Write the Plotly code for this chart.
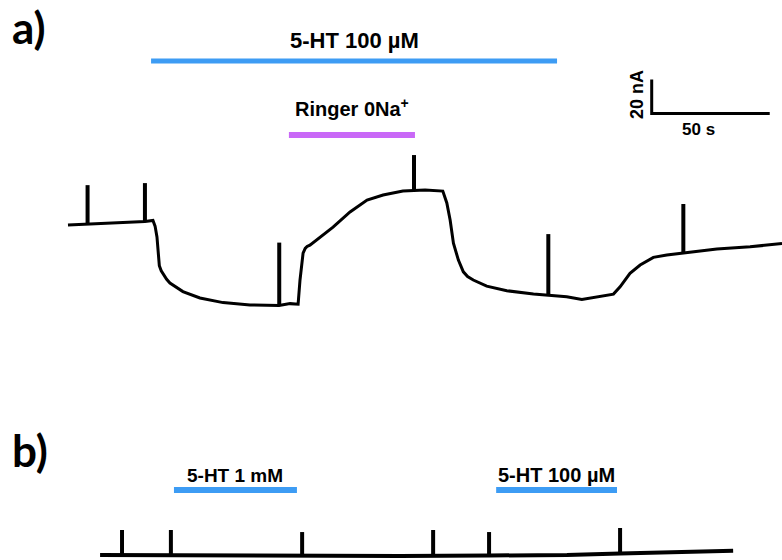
import numpy as np
import plotly.graph_objects as go

# ---------------- data (time in s, current in nA) ----------------
# Panel a trace
time_a = [0, 13.6, 26.3, 32.6, 36.0, 36.9, 37.7, 38.2, 38.7, 39.5,
          40.3, 41.8, 43.2, 48.7, 55.9, 65.7, 77.1, 89.4, 94.1, 97.5,
          98.3, 99.6, 100.5, 101.3, 102.5, 106.8, 112.3, 119.5, 126.7, 133.5,
          141.9, 146.6, 151.3, 158.8, 160.5, 161.9, 163.3, 165.4, 167.5, 169.3,
          171.7, 177.4, 185.9, 197.2, 203.5, 211.3, 217.7, 225.4, 231.1, 233.9,
          238.1, 242.4, 248.0, 253.7, 260.7, 274.9, 289.0, 302.5]
current_a = [-0.6, 0.3, 0.9, 1.5, 2.1, -1.2, -7.6, -19.0, -24.5, -27.5,
             -29.5, -32.5, -34.7, -39.7, -43.5, -46.2, -47.6, -47.9, -46.8, -47.1,
             -32.9, -17.1, -14.3, -13.2, -12.4, -7.6, -1.8, 7.1, 14.1, 17.1,
             19.4, 19.7, 20.0, 19.4, 12.4, 2.4, -11.2, -21.2, -28.1, -30.9,
             -32.9, -36.5, -39.2, -41.2, -41.8, -42.8, -44.3, -42.4, -41.2, -36.9,
             -29.0, -24.1, -19.6, -18.2, -16.9, -14.7, -13.4, -11.4]
spike_t_a = [8.3, 32.6, 89.5, 146.6, 203.5, 260.7]
spike_top_a = [22.9, 24.1, -10.9, 40.6, -5.9, 11.8]

# Panel b trace
time_b = [13.6, 55.9, 99.2, 140.7, 178.4, 211.4, 233.9, 259.3, 281.8]
current_b = [0, -0.3, -0.6, -0.6, -0.3, 0, 0.9, 1.5, 2.5]
spike_t_b = [22.9, 43.6, 99.2, 154.7, 178.4, 233.9]
spike_top_b = [14.7, 14.7, 13.5, 14.7, 13.5, 15.9]

# Application periods (s)
ht100_a = (35.2, 207.2)
ringer0na = (93.6, 147.0)
ht1mm_b = (44.9, 97.0)
ht100_b = (181.4, 232.6)

# Scale bar
scale_t = 50   # s
scale_i = 20   # nA

# ---------------- layout constants ----------------
W, H = 782, 560
X_RANGE = [-28.8, 302.5]
Y_RANGE_A = [-197.6, 131.8]
Y_RANGE_B = [-2.94, 326.5]
BLUE = "#3d9cf4"
PURPLE = "#c968f7"
FONT = "Liberation Sans, Arial, sans-serif"


def spikes(ts, tops, tt, cc):
    xs, ys = [], []
    for t, top in zip(ts, tops):
        base = float(np.interp(t, tt, cc))
        xs += [t, t, None]
        ys += [base, top, None]
    return xs, ys


fig = go.Figure()

fig.add_trace(go.Scatter(x=time_a, y=current_a, mode="lines",
                         line=dict(color="black", width=3), yaxis="y"))
sx, sy = spikes(spike_t_a, spike_top_a, time_a, current_a)
fig.add_trace(go.Scatter(x=sx, y=sy, mode="lines",
                         line=dict(color="black", width=4), yaxis="y"))

fig.add_trace(go.Scatter(x=time_b, y=current_b, mode="lines",
                         line=dict(color="black", width=4), yaxis="y2"))
sx, sy = spikes(spike_t_b, spike_top_b, time_b, current_b)
fig.add_trace(go.Scatter(x=sx, y=sy, mode="lines",
                         line=dict(color="black", width=4), yaxis="y2"))

# scale bar
sb_t0, sb_i0 = 247.3, 65.1
fig.add_trace(go.Scatter(x=[sb_t0, sb_t0, sb_t0 + scale_t],
                         y=[sb_i0 + scale_i, sb_i0, sb_i0],
                         mode="lines", line=dict(color="black", width=3),
                         yaxis="y"))

shapes = []
for (t0, t1), yp, col, w in [(ht100_a, 1 - 61 / H, BLUE, 5),
                             (ringer0na, 1 - 135 / H, PURPLE, 6),
                             (ht1mm_b, 1 - 490 / H, BLUE, 6),
                             (ht100_b, 1 - 490 / H, BLUE, 6)]:
    shapes.append(dict(type="line", xref="x", yref="paper", x0=t0, x1=t1,
                       y0=yp, y1=yp, line=dict(color=col, width=w)))

annotations = [
    dict(text="<b>a)</b>", xref="paper", yref="paper", x=10 / W, y=1 - 27 / H,
         xanchor="left", yanchor="middle", showarrow=False,
         font=dict(family="Lato, sans-serif", size=44, color="black")),
    dict(text="<b>b)</b>", xref="paper", yref="paper", x=10 / W, y=1 - 450 / H,
         xanchor="left", yanchor="middle", showarrow=False,
         font=dict(family="Lato, sans-serif", size=44, color="black")),
    dict(text="<b>5-HT 100 µM</b>", xref="x", yref="paper",
         x=sum(ht100_a) / 2, y=1 - 41 / H, xanchor="center", yanchor="middle",
         showarrow=False, font=dict(family=FONT, size=22, color="black")),
    dict(text="<b>Ringer 0Na<sup>+</sup></b>", xref="x", yref="paper",
         x=sum(ringer0na) / 2, y=1 - 107 / H, xanchor="center", yanchor="middle",
         showarrow=False, font=dict(family=FONT, size=20, color="black")),
    dict(text="<b>5-HT 1 mM</b>", xref="x", yref="paper",
         x=sum(ht1mm_b) / 2, y=1 - 475 / H, xanchor="center", yanchor="middle",
         showarrow=False, font=dict(family=FONT, size=19, color="black")),
    dict(text="<b>5-HT 100 µM</b>", xref="x", yref="paper",
         x=sum(ht100_b) / 2, y=1 - 475 / H, xanchor="center", yanchor="middle",
         showarrow=False, font=dict(family=FONT, size=20, color="black")),
    dict(text="<b>20 nA</b>", xref="x", yref="y", x=sb_t0 - 6.5,
         y=sb_i0 + scale_i / 2 + 1, xanchor="center", yanchor="middle",
         textangle=-90, showarrow=False,
         font=dict(family=FONT, size=18, color="black")),
    dict(text="<b>50 s</b>", xref="x", yref="y", x=sb_t0 + scale_t / 2 - 5,
         y=sb_i0 - 9.5, xanchor="center", yanchor="middle", showarrow=False,
         font=dict(family=FONT, size=17, color="black")),
]

fig.update_layout(
    width=W, height=H, margin=dict(l=0, r=0, t=0, b=0, pad=0),
    paper_bgcolor="white", plot_bgcolor="white", showlegend=False,
    xaxis=dict(range=X_RANGE, visible=False, fixedrange=True),
    yaxis=dict(range=Y_RANGE_A, visible=False, fixedrange=True),
    yaxis2=dict(range=Y_RANGE_B, visible=False, overlaying="y",
                fixedrange=True),
    shapes=shapes, annotations=annotations,
)

fig.write_html("out.html", config={"displayModeBar": False},
               post_script="document.body.style.margin='0';")
